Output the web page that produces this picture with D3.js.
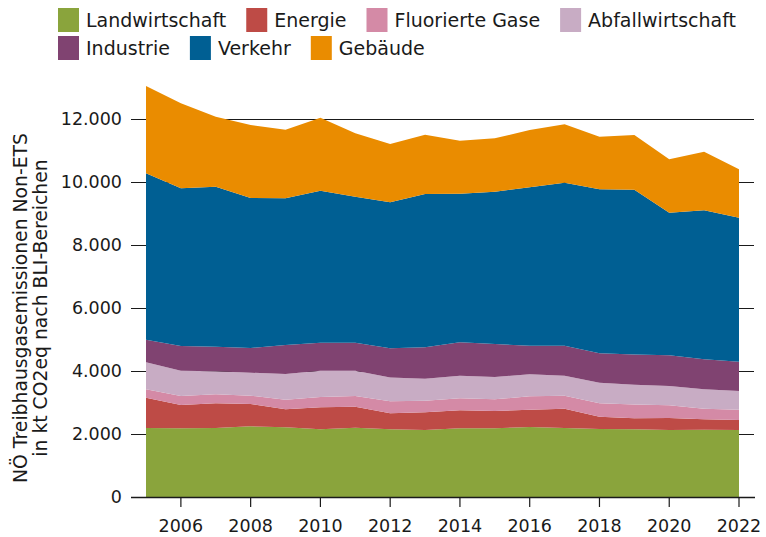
<!DOCTYPE html>
<html>
<head>
<meta charset="utf-8">
<script src="https://cdn.jsdelivr.net/npm/d3@7"></script>
<style>
  body { margin: 0; background: #fff; }
  svg { display: block; font-family: "DejaVu Sans", Lato, sans-serif; }
</style>
</head>
<body>
<svg id="chart" width="766" height="537"></svg>
<script>
// NÖ Treibhausgasemissionen Non-ETS, kt CO2eq
const years = [2005, 2006, 2007, 2008, 2009, 2010, 2011, 2012, 2013, 2014, 2015, 2016, 2017, 2018, 2019, 2020, 2021, 2022];

const landwirtschaft = [2190, 2181, 2190, 2244, 2213, 2149, 2200, 2154, 2127, 2181, 2181, 2222, 2190, 2159, 2149, 2127, 2138, 2127];
const energie        = [963, 740, 784, 708, 570, 698, 667, 503, 561, 571, 549, 550, 614, 391, 351, 381, 328, 317];
const fluorierteGase = [266, 285, 286, 264, 306, 328, 339, 380, 370, 380, 370, 424, 412, 424, 436, 402, 338, 328];
const abfall         = [856, 804, 730, 730, 816, 835, 804, 756, 698, 720, 710, 698, 636, 656, 630, 614, 615, 593];
const industrie      = [719, 784, 782, 784, 920, 889, 889, 927, 996, 1058, 1047, 910, 952, 931, 958, 974, 952, 931];
const verkehr        = [5282, 5006, 5079, 4762, 4657, 4825, 4634, 4635, 4867, 4719, 4835, 5028, 5174, 5207, 5232, 4528, 4730, 4571];
const gebaeude       = [2772, 2698, 2222, 2318, 2178, 2318, 2013, 1851, 1883, 1682, 1695, 1819, 1853, 1671, 1736, 1694, 1861, 1536];

const seriesNames = ['Landwirtschaft', 'Energie', 'Fluorierte Gase', 'Abfallwirtschaft', 'Industrie', 'Verkehr', 'Gebäude'];
const seriesValues = [landwirtschaft, energie, fluorierteGase, abfall, industrie, verkehr, gebaeude];
const seriesColors = ['#8aa43c', '#be4b46', '#d48aa6', '#c8acc4', '#804371', '#005f93', '#ea8c00'];

const yTicks = [0, 2000, 4000, 6000, 8000, 10000, 12000];
const xTicks = [2006, 2008, 2010, 2012, 2014, 2016, 2018, 2020, 2022];

const svg = d3.select('#chart');

const x = d3.scaleLinear().domain([2005, 2022]).range([146, 739]);
const y = d3.scaleLinear().domain([0, 12000]).range([497, 119]);

const de = d3.formatLocale({ decimal: ',', thousands: '.', grouping: [3], currency: ['', '€'] });
const fmt = de.format(',');

// rows for the stack
const rows = years.map((yr, i) => {
  const r = { year: yr };
  seriesNames.forEach((n, j) => { r[n] = seriesValues[j][i]; });
  return r;
});
const stacked = d3.stack().keys(seriesNames)(rows);

// grid lines (behind the areas)
svg.append('g')
  .attr('class', 'grid')
  .selectAll('line')
  .data(yTicks)
  .enter().append('line')
  .attr('x1', 131)
  .attr('x2', 754)
  .attr('y1', d => y(d) + 0.5)
  .attr('y2', d => y(d) + 0.5)
  .attr('stroke', '#1a1a1a')
  .attr('stroke-width', 1.2);

const area = d3.area()
  .x(d => x(d.data.year))
  .y0(d => y(d[0]))
  .y1(d => y(d[1]));

svg.append('g')
  .attr('class', 'areas')
  .selectAll('path')
  .data(stacked)
  .enter().append('path')
  .attr('d', area)
  .attr('fill', (d, i) => seriesColors[i]);

// x axis
svg.append('line')
  .attr('x1', 131).attr('x2', 755)
  .attr('y1', y(0) + 0.5).attr('y2', y(0) + 0.5)
  .attr('stroke', '#1a1a1a')
  .attr('stroke-width', 1.5);

const xAxis = svg.append('g').attr('class', 'x-axis');
xAxis.selectAll('line')
  .data(xTicks)
  .enter().append('line')
  .attr('x1', d => x(d)).attr('x2', d => x(d))
  .attr('y1', y(0)).attr('y2', y(0) + 10)
  .attr('stroke', '#1a1a1a')
  .attr('stroke-width', 1.2);
xAxis.selectAll('text')
  .data(xTicks)
  .enter().append('text')
  .attr('x', d => x(d))
  .attr('y', 526)
  .attr('dy', '0.35em')
  .attr('text-anchor', 'middle')
  .style('font-size', '17.5px')
  .style('fill', '#1a1a1a')
  .text(d => d);

// y tick labels
svg.append('g').attr('class', 'y-axis')
  .selectAll('text')
  .data(yTicks)
  .enter().append('text')
  .attr('x', 122)
  .attr('y', d => y(d))
  .attr('dy', '0.35em')
  .attr('text-anchor', 'end')
  .style('font-size', '17.5px')
  .style('fill', '#1a1a1a')
  .text(d => fmt(d));

// y title, two lines
const yTitle = svg.append('text')
  .attr('transform', 'translate(20,308) rotate(-90)')
  .attr('text-anchor', 'middle')
  .style('font-size', '18.8px')
  .style('fill', '#1a1a1a');
yTitle.append('tspan').attr('x', 0).attr('dy', '0.35em').text('NÖ Treibhausgasemissionen Non-ETS');
yTitle.append('tspan').attr('x', 0).attr('dy', '1.1em').text('in kt CO2eq nach BLI-Bereichen');

// legend: two rows, items flow left to right
const legendRows = [[0, 1, 2, 3], [4, 5, 6]];
const legend = svg.append('g').attr('class', 'legend');
legendRows.forEach((row, r) => {
  let lx = 58;
  const cy = 20 + r * 28;
  row.forEach(i => {
    const g = legend.append('g').attr('transform', `translate(${lx},${cy})`);
    g.append('rect')
      .attr('x', 0).attr('y', -12)
      .attr('width', 21).attr('height', 24)
      .attr('fill', seriesColors[i]);
    const t = g.append('text')
      .attr('x', 28)
      .attr('dy', '0.35em')
      .style('font-size', '19px')
      .style('fill', '#1a1a1a')
      .text(seriesNames[i]);
    lx += 28 + t.node().getComputedTextLength() + 20;
  });
});
</script>
</body>
</html>
